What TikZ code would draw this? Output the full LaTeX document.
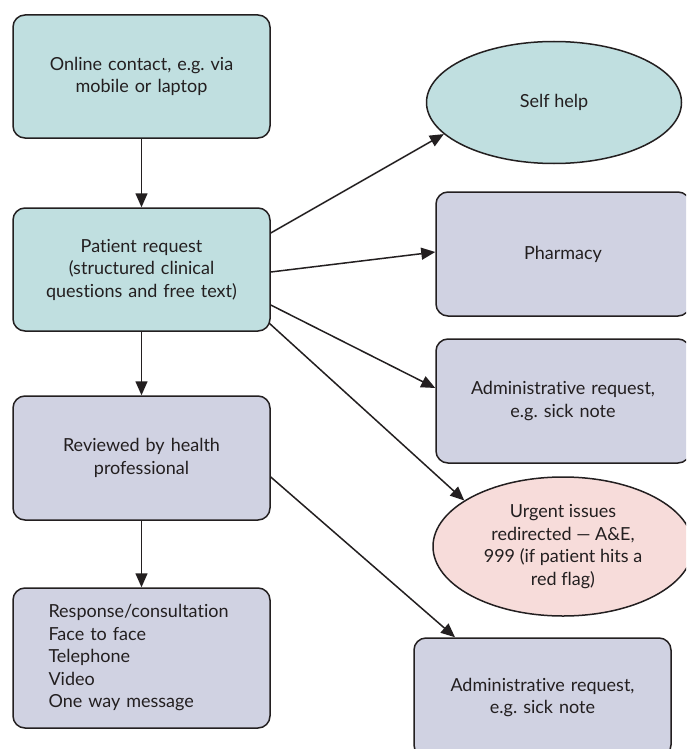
\documentclass[tikz,border=0pt]{standalone}
\usepackage{fontspec}
\setmainfont[Ligatures=NoCommon]{Lato}
\usetikzlibrary{arrows.meta,shapes.geometric}
\frenchspacing
\definecolor{tealfill}{HTML}{C0DFE0}
\definecolor{lavfill}{HTML}{D0D2E2}
\definecolor{pinkfill}{HTML}{F7DCDA}
\definecolor{inkc}{HTML}{231F20}
\tikzset{
  box/.style={draw=inkc, line width=1.5pt, rounded corners=12pt, align=center, inner sep=0pt, text=inkc,
    font=\fontsize{18}{22.5}\selectfont\frenchspacing, text width=#1},
  box/.default=250pt,
  tealbox/.style={box, fill=tealfill},
  lavbox/.style={box, fill=lavfill},
  oval/.style={ellipse, draw=inkc, line width=1.5pt, align=center, inner sep=0pt, text=inkc,
    font=\fontsize{18}{22.5}\selectfont\frenchspacing},
  conn/.style={draw=inkc, line width=1.5pt, -{Triangle[length=14pt,width=12pt]}}
}
\begin{document}
\begin{tikzpicture}[x=1pt,y=1pt]
\clip (0,0) rectangle (686,-749);
\fill[white] (0,0) rectangle (686,-749);
\node[tealbox, minimum width=257pt, minimum height=123pt] (online) at (141.5,-76.5) {Online contact, e.g. via\\mobile or laptop};
\node[tealbox, minimum width=257pt, minimum height=123pt] (pat) at (141.5,-269.5) {Patient request\\(structured clinical\\questions and free text)};
\node[lavbox, minimum width=257pt, minimum height=124pt] (rev) at (141.5,-458) {Reviewed by health\\professional};
\node[box={186pt}, fill=lavfill, align=left, minimum width=257pt, minimum height=140pt] (resp) at (141.5,-658) {Response/consultation\\Face to face\\Telephone\\Video\\One way message};
\node[oval, fill=tealfill, minimum width=255pt, minimum height=122pt] (self) at (554,-102.5) {Self help};
\node[lavbox, minimum width=254pt, minimum height=124pt] (pharm) at (563,-254) {Pharmacy};
\node[lavbox, minimum width=254pt, minimum height=124pt] (adm1) at (563,-401) {Administrative request,\\e.g. sick note};
\node[oval, fill=pinkfill, minimum width=260pt, minimum height=139pt] (urg) at (563,-546.5) {Urgent issues\\redirected — A\&E,\\999 (if patient hits a\\red flag)};
\node[lavbox, minimum width=257pt, minimum height=119pt] (adm2) at (542.5,-697.5) {Administrative request,\\e.g. sick note};
\draw[conn] (online) -- (pat);
\draw[conn] (pat) -- (rev);
\draw[conn] (rev) -- (resp);
\draw[conn] ([yshift=36.5pt]pat.east) -- (self.196.9);
\draw[conn] ([yshift=-2.5pt]pat.east) -- ([yshift=2pt]pharm.west);
\draw[conn] ([yshift=-35.5pt]pat.east) -- ([yshift=13pt]adm1.west);
\draw[conn] ([xshift=-2pt,yshift=9pt]pat.south east) -- (urg.155.75);
\draw[conn] ([yshift=-19pt]rev.east) -- ([xshift=-87.5pt]adm2.north);
\end{tikzpicture}
\end{document}
